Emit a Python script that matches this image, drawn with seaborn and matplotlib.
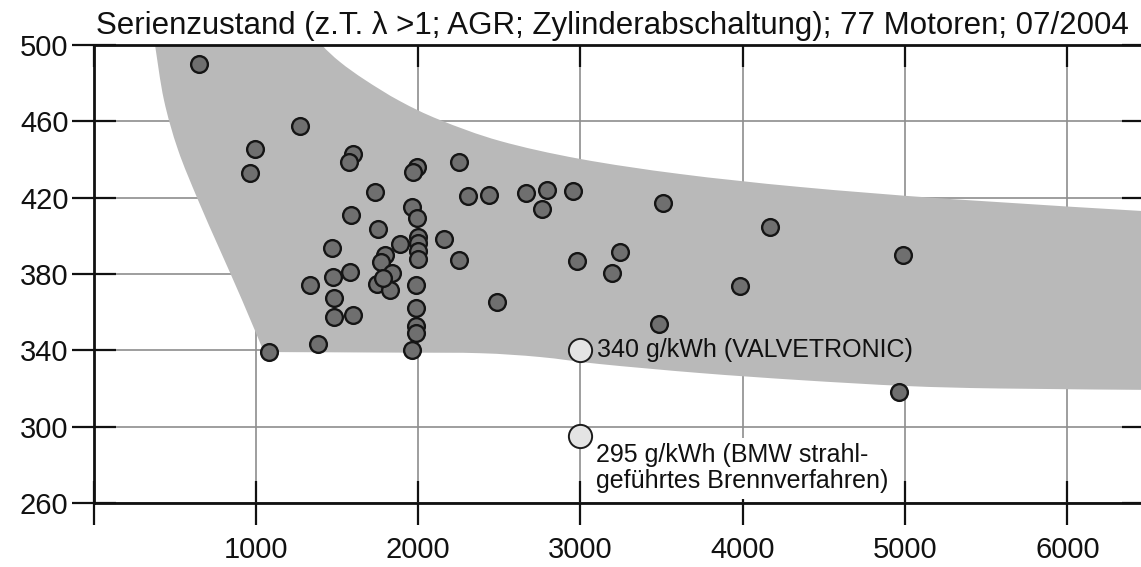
import matplotlib
matplotlib.use("Agg")
import matplotlib.pyplot as plt
from matplotlib.path import Path
from matplotlib.patches import PathPatch
import seaborn as sns

# Engine speed [1/min] and specific fuel consumption [g/kWh] of production engines
speed = [650, 1272, 995, 964, 1599, 1574, 1993, 1969, 2252, 1734,
         2307, 2437, 2665, 2794, 2763, 2954, 3509, 4168, 1587, 1962,
         1993, 1753, 1470, 1888, 2000, 2000, 2000, 2000, 2160, 1796,
         1771, 2252, 1580, 1476, 1334, 1839, 1747, 1827, 1784, 1987,
         1482, 1987, 2486, 1482, 1599, 1987, 1987, 1383, 1962, 1081,
         2979, 3244, 3195, 3983, 3484, 4987, 4963]
bsfc = [490, 457.5, 445.5, 433, 443, 438.7, 436, 433.4, 438.7, 423,
        421, 421.4, 422.4, 424, 414, 423.5, 417.2, 404.6, 411, 415,
        409.3, 403.6, 393.6, 395.7, 399.5, 396.3, 392, 388, 398.3, 390,
        386.3, 387.3, 381, 378.4, 374.2, 380.5, 374.7, 371.6, 378, 374.2,
        367.4, 362.2, 365.3, 357.4, 358.5, 352.7, 349.1, 343.3, 340.1, 339,
        386.8, 391.5, 380.5, 373.7, 353.8, 390, 318.1]

# Best values of the two highlighted combustion systems
highlight_speed = [3000, 3000]
highlight_bsfc = [340, 295]
highlight_labels = ["340 g/kWh (VALVETRONIC)",
                    "295 g/kWh (BMW strahl-\ngeführtes Brennverfahren)"]

# Outline of the scatter band of the production fleet
# left edge (top to bottom)
band_left_speed = [360, 379, 434, 521, 644, 779, 915, 1050]
band_left_bsfc = [510, 500, 471.2, 445.0, 418.8, 392.6, 366.4, 339.1]
# lower edge (left to right)
band_low_speed = [1050, 1888, 2381, 2751, 3121, 3737, 4353, 5006, 5585, 6600]
band_low_bsfc = [339.1, 338.8, 338.5, 336.5, 332.8, 328.1, 324.4, 321.3, 320.0, 319.2]
# upper edge (right to left)
band_up_speed = [6600, 5277, 4353, 3614, 2998, 2505, 2135, 1888, 1673, 1519, 1408, 1330]
band_up_bsfc = [412.3, 419.3, 425.6, 432.4, 440.3, 449.7, 460.7, 470.6, 481.7, 491.1, 500, 510]

x_ticks = [0, 1000, 2000, 3000, 4000, 5000, 6000]
x_tick_labels = ["", "1000", "2000", "3000", "4000", "5000", "6000"]
y_ticks = [260, 300, 340, 380, 420, 460, 500]
title = "Serienzustand (z.T. λ >1; AGR; Zylinderabschaltung); 77 Motoren; 07/2004"


def smooth_segments(xs, ys):
    """Cubic Bezier pieces (Catmull-Rom) through the given outline points."""
    pts = list(zip(xs, ys))
    n = len(pts)
    verts = []
    for i in range(n - 1):
        p0 = pts[i - 1] if i > 0 else pts[i]
        p1 = pts[i]
        p2 = pts[i + 1]
        p3 = pts[i + 2] if i + 2 < n else pts[i + 1]
        c1 = (p1[0] + (p2[0] - p0[0]) / 6, p1[1] + (p2[1] - p0[1]) / 6)
        c2 = (p2[0] - (p3[0] - p1[0]) / 6, p2[1] - (p3[1] - p1[1]) / 6)
        verts += [c1, c2, p2]
    return verts, [Path.CURVE4] * len(verts)


sns.set_theme(style="white")
plt.rcParams["font.family"] = ["Liberation Sans", "DejaVu Sans"]

W, H = 1141, 567
fig = plt.figure(figsize=(W / 100, H / 100), dpi=100)
ax = fig.add_axes([93.5 / W, 1 - 503 / H, (1143.6 - 93.5) / W, (503 - 45) / H])
ax.set_xlim(0, 6470)
ax.set_ylim(260, 500)
ax.set_axisbelow(True)

# grid and ticks
ax.set_xticks(x_ticks)
ax.set_xticklabels(x_tick_labels)
ax.set_yticks(y_ticks)
ax.grid(True, color="#8e8e8e", linewidth=1.2)
ax.tick_params(axis="both", direction="inout", length=32, width=1.6,
               color="#111111", labelsize=21, labelcolor="#111111")
ax.tick_params(axis="x", top=False, bottom=True, pad=8)
ax.tick_params(axis="y", left=True, right=True, pad=2)

for side in ["left", "bottom", "top"]:
    ax.spines[side].set_visible(True)
    ax.spines[side].set_color("#111111")
    ax.spines[side].set_linewidth(2.0)
ax.spines["right"].set_visible(False)

# inward ticks along the upper edge
top = ax.secondary_xaxis("top")
top.set_xticks(x_ticks)
top.tick_params(direction="in", length=16, width=1.6, color="#111111",
                labeltop=False)
top.spines["top"].set_visible(False)
top.set_zorder(0.8)

# scatter band
verts = [(band_left_speed[0], band_left_bsfc[0])]
codes = [Path.MOVETO]
for xs, ys in [(band_left_speed, band_left_bsfc), (band_low_speed, band_low_bsfc)]:
    v, c = smooth_segments(xs, ys)
    verts += v
    codes += c
verts.append((band_up_speed[0], band_up_bsfc[0]))
codes.append(Path.LINETO)
v, c = smooth_segments(band_up_speed, band_up_bsfc)
verts += v
codes += c
verts.append(verts[0])
codes.append(Path.CLOSEPOLY)
ax.add_patch(PathPatch(Path(verts, codes), facecolor="#b9b9b9",
                       edgecolor="none", zorder=1))

# production engines
sns.scatterplot(x=speed, y=bsfc, ax=ax, s=145, color="#6f6f6f",
                edgecolor="#151515", linewidth=1.7, zorder=3, legend=False)

# highlighted combustion systems
sns.scatterplot(x=highlight_speed, y=highlight_bsfc, ax=ax, s=280,
                color="#e4e4e4", edgecolor="#1c1c1c", linewidth=1.4,
                zorder=4, legend=False)
ax.annotate(highlight_labels[0], xy=(highlight_speed[0], highlight_bsfc[0]),
            xytext=(12, 0), textcoords="offset points", va="center",
            ha="left", fontsize=18, color="#111111", zorder=3)
ax.annotate(highlight_labels[1], xy=(highlight_speed[1], highlight_bsfc[1]),
            xytext=(11, -5), textcoords="offset points", va="top",
            ha="left", fontsize=18, color="#111111", linespacing=1.1,
            bbox=dict(facecolor="white", edgecolor="none", pad=4), zorder=2)

ax.set_xlabel("")
ax.set_ylabel("")
ax.set_title(title, fontsize=22.5, pad=8, color="#111111", x=0.494)

fig.savefig("out.png", dpi=100)
